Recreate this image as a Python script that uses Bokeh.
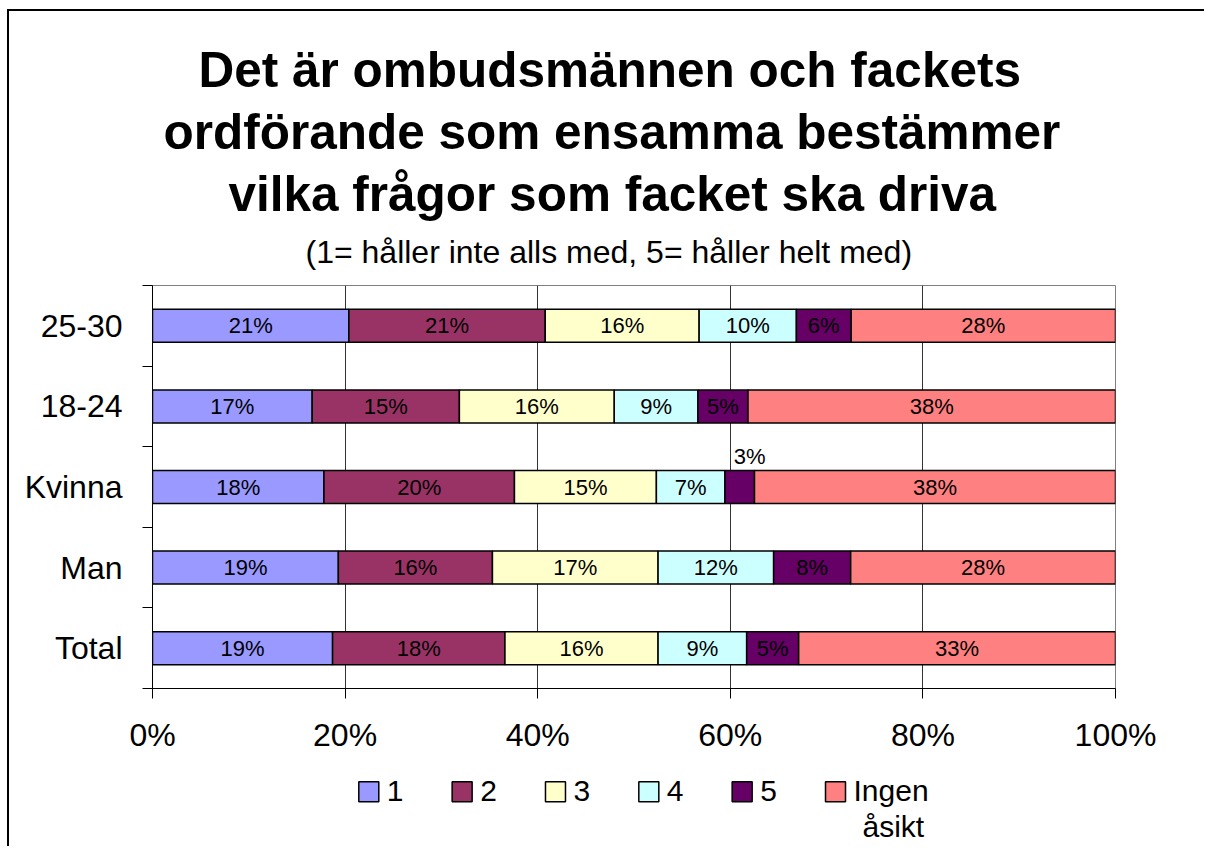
import numpy as np
from bokeh.plotting import figure
from bokeh.layouts import column
from bokeh.models import (Range1d, FixedTicker, NumeralTickFormatter, Title,
                          ColumnDataSource)
from bokeh.embed import file_html
from bokeh.resources import INLINE
from bokeh.core.properties import value

# ---------------- data ----------------
categories = ["25-30", "18-24", "Kvinna", "Man", "Total"]
series_names = ["1", "2", "3", "4", "5", "Ingen åsikt"]
legend_labels = ["1", "2", "3", "4", "5", "Ingen\nåsikt"]
colors = ["#9999FF", "#993366", "#FFFFCC", "#CCFFFF", "#660066", "#FF8080"]

s1 = [20.8, 16.6, 18.0, 19.3, 18.7]
s2 = [20.8, 15.3, 20.0, 16.0, 17.9]
s3 = [16.3, 16.1, 14.9, 17.2, 15.9]
s4 = [10.3, 8.7, 7.2, 12.0, 9.2]
s5 = [5.8, 5.2, 3.1, 8.0, 5.4]
s6 = [28.0, 38.2, 37.9, 27.5, 32.9]
series = [s1, s2, s3, s4, s5, s6]

title_lines = ["Det är ombudsmännen och fackets",
               "ordförande som ensamma bestämmer",
               "vilka frågor som facket ska driva"]
subtitle = "(1= håller inte alls med,  5= håller helt med)"
x_ticks = [0, 0.2, 0.4, 0.6, 0.8, 1.0]

FONT = "Liberation Sans"

vals = np.array(series, dtype=float)          # shape (6, 5)
totals = vals.sum(axis=0)
frac = vals / totals                           # 100% stacked
rights = np.cumsum(frac, axis=0)
lefts = rights - frac
n = len(categories)
ypos = np.array([n - 1 - i + 0.5 for i in range(n)])
BAR_H = 0.41
W = 1195
BL, BR = 143, 89          # frame borders left / right (px)
FW = W - BL - BR          # frame width


def half_up(v):
    return int(np.floor(v + 0.5))


p = figure(width=W, height=749, x_range=Range1d(0, 1), y_range=Range1d(0, n),
           output_backend="svg", toolbar_location=None,
           min_border_left=BL, min_border_right=BR,
           min_border_top=274, min_border_bottom=72)
p.background_fill_color = "white"
p.border_fill_color = "white"
p.outline_line_color = "#808080"
p.outline_line_width = 1

# grid
p.ygrid.visible = False
p.xgrid.ticker = FixedTicker(ticks=x_ticks)
p.xgrid.grid_line_color = "#333333"
p.xgrid.grid_line_width = 1

# x axis
p.xaxis.ticker = FixedTicker(ticks=x_ticks)
p.xaxis.formatter = NumeralTickFormatter(format="0%")
p.xaxis.major_tick_out = 10
p.xaxis.major_tick_in = 0
p.xaxis.minor_tick_line_color = None
p.xaxis.axis_line_color = "black"
p.xaxis.major_tick_line_color = "black"
p.xaxis.major_label_text_font = FONT
p.xaxis.major_label_text_font_size = "32px"
p.xaxis.major_label_text_color = "black"
p.xaxis.major_label_standoff = 18

# y axis (categories at centres, ticks at boundaries)
p.yaxis.ticker = FixedTicker(ticks=list(ypos), minor_ticks=list(range(n + 1)))
p.yaxis.major_label_overrides = {float(y): c for y, c in zip(ypos, categories)}
p.yaxis.major_tick_line_color = None
p.yaxis.major_tick_out = 0
p.yaxis.major_tick_in = 0
p.yaxis.minor_tick_line_color = "black"
p.yaxis.minor_tick_out = 10
p.yaxis.minor_tick_in = 0
p.yaxis.axis_line_color = "black"
p.yaxis.major_label_text_font = FONT
p.yaxis.major_label_text_font_size = "32px"
p.yaxis.major_label_text_color = "black"
p.yaxis.major_label_standoff = 20

# bars
for j, name in enumerate(series_names):
    src = ColumnDataSource(dict(y=ypos, left=lefts[j], right=rights[j]))
    p.hbar(y="y", left="left", right="right", height=BAR_H, source=src,
           fill_color=colors[j], line_color="black", line_width=1.5)

# data labels
in_x, in_y, in_t, out_x, out_y, out_t = [], [], [], [], [], []
for j in range(len(series)):
    for i in range(n):
        cx = (lefts[j, i] + rights[j, i]) / 2
        t = f"{half_up(vals[j, i])}%"
        if frac[j, i] >= 0.04:
            in_x.append(cx); in_y.append(ypos[i]); in_t.append(t)
        else:
            out_x.append(cx); out_y.append(ypos[i] + BAR_H / 2); out_t.append(t)

p.text(x="x", y="y", text="t", source=ColumnDataSource(dict(x=in_x, y=in_y, t=in_t)),
       text_align="center", text_baseline="middle", text_font=value(FONT),
       text_font_size="22px", text_color="black")
p.text(x="x", y="y", text="t", source=ColumnDataSource(dict(x=out_x, y=out_y, t=out_t)),
       text_align="center", text_baseline="middle", text_font=value(FONT),
       text_font_size="22px", text_color="black", x_offset=10, y_offset=-14)

# titles (stacked outward from the frame: subtitle first)
p.add_layout(Title(text=subtitle, align="left", offset=153, vertical_align="top",
                   standoff=27, text_font=FONT, text_font_size="32px",
                   text_font_style="normal", text_color="black"), "above")
title_offsets = [46, 11, 76]
title_standoffs = [0, 10, 0]
for k in [2, 1, 0]:
    p.add_layout(Title(text=title_lines[k], align="left", offset=title_offsets[k],
                       vertical_align="bottom", standoff=title_standoffs[k],
                       text_font=FONT, text_font_size="49.5px", text_font_style="bold",
                       text_color="black"), "above")

# legend strip: x in pixels from the chart frame's left edge, y in pixels downwards
LH = 86
pl = figure(width=W, height=LH, x_range=Range1d(0, FW), y_range=Range1d(LH, 0),
            output_backend="svg", toolbar_location=None,
            min_border_left=BL, min_border_right=BR, min_border_top=0, min_border_bottom=0,
            x_axis_type=None, y_axis_type=None)
pl.grid.visible = False
pl.outline_line_color = None
pl.background_fill_color = "white"
pl.border_fill_color = "white"

X0, PITCH, SW, SY = 206.3, 93.34, 20, 31.2
sq_x = [X0 + SW / 2 + k * PITCH for k in range(len(series_names))]
pl.rect(x=sq_x, y=[SY] * len(sq_x), width=SW, height=SW, fill_color=colors,
        line_color="black", line_width=1.5)
lx, ly, lt = [], [], []
for k, lab in enumerate(legend_labels):
    for m, part in enumerate(lab.split("\n")):
        lx.append(X0 + SW + 8 + k * PITCH + (9 if m > 0 else 0))
        ly.append(30.2 + 36 * m)
        lt.append(part)
pl.text(x=lx, y=ly, text=lt, text_align="left", text_baseline="middle",
        text_font=value(FONT), text_font_size="30px", text_color="black")

layout = column(p, pl, spacing=0)
layout.styles = {"margin-left": "7px", "margin-top": "9px",
                 "border-left": "2px solid black", "border-top": "2px solid black"}

open("out.html", "w").write(file_html(layout, INLINE))
